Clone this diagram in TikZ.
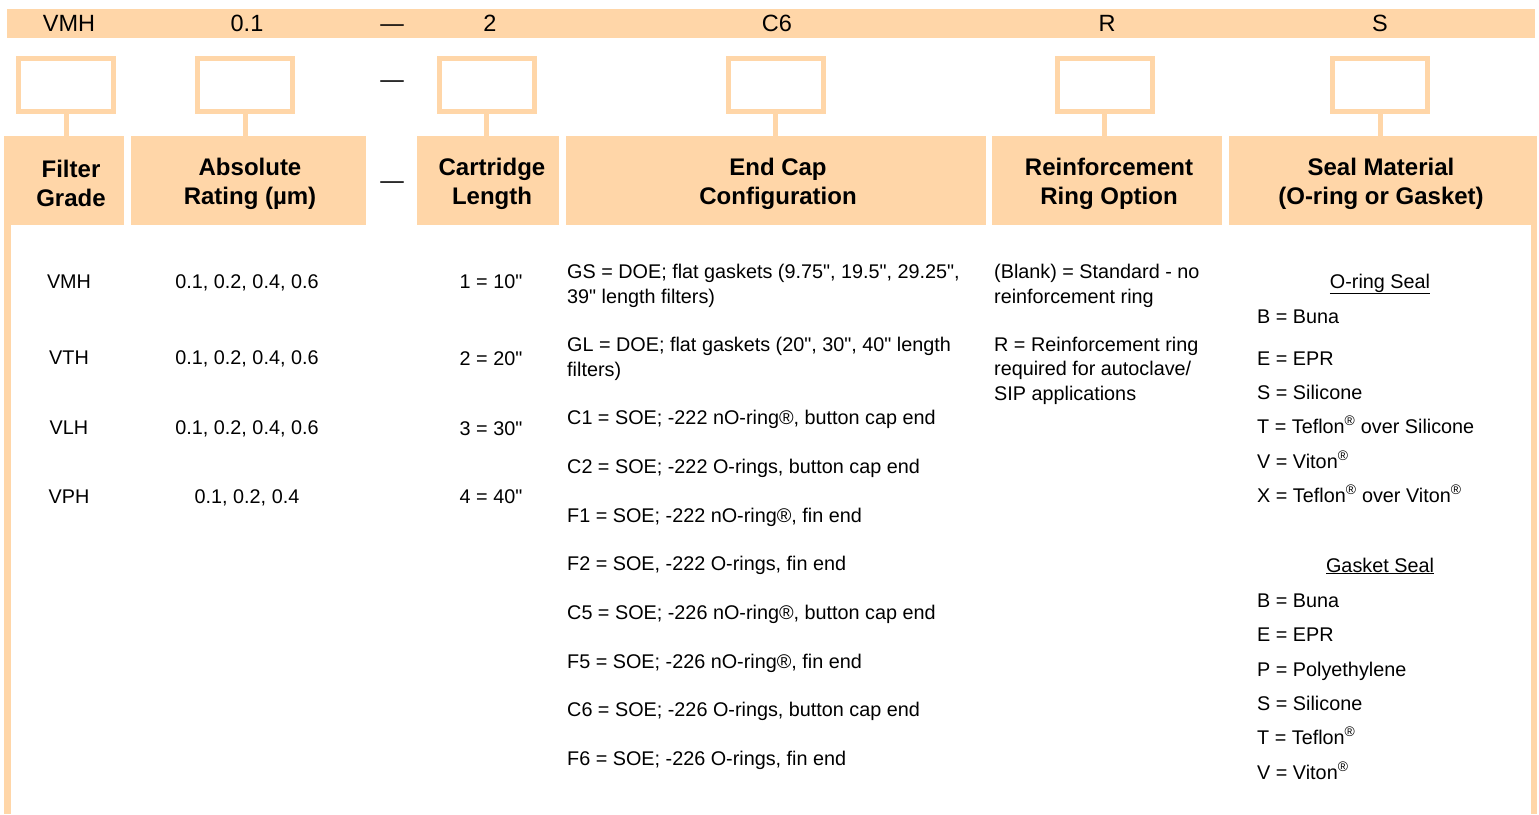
\documentclass[tikz,border=0pt]{standalone}
\usepackage{fontspec}
\setmainfont{Liberation Sans}[Ligatures=TeXOff]
\definecolor{peach}{RGB}{255,214,168}
\begin{document}
\begin{tikzpicture}[x=1pt,y=-1pt,
  bar/.style={fill=peach, draw=none, inner sep=0pt, anchor=north west},
  slot/.style={draw=peach, line width=5pt, minimum width=95pt, minimum height=53pt, inner sep=0pt},
  hdr/.style={fill=peach, draw=none, inner sep=0pt, anchor=north west, minimum height=89pt},
  stem/.style={draw=peach, line width=5pt},
  toptxt/.style={font=\fontsize{23.5}{27}\selectfont, inner sep=0pt},
  hdrtxt/.style={font=\bfseries\fontsize{24}{29}\selectfont, align=center, inner sep=0pt},
  body/.style={font=\fontsize{19.8}{25}\selectfont, anchor=base west, inner sep=0pt},
  bodyc/.style={font=\fontsize{19.8}{25}\selectfont, anchor=base, inner sep=0pt}
]
\useasboundingbox (0,0) rectangle (1539,814);

% top bar
\node[bar, minimum width=1528pt, minimum height=29pt] (top) at (7,9) {};
\node[toptxt] (c1) at (69,23.5) {VMH};
\node[toptxt] (c2) at (247,23.5) {0.1};
\node[toptxt] (c0) at (392,28) {—};
\node[toptxt] (c3) at (490,23.5) {2};
\node[toptxt] (c4) at (777,23.5) {C6};
\node[toptxt] (c5) at (1107,23.5) {R};
\node[toptxt] (c6) at (1380,23.5) {S};

% slots
\node[slot] (s1) at (66,85) {};
\node[slot] (s2) at (245,85) {};
\node[slot] (s3) at (486.5,85) {};
\node[slot] (s4) at (775.5,85) {};
\node[slot] (s5) at (1104.5,85) {};
\node[slot] (s6) at (1380,85) {};
\node[toptxt] (d1) at (392,84.5) {—};

% headers
\node[hdr, minimum width=120pt] (h1) at (4,136) {};
\node[hdr, minimum width=235pt] (h2) at (131,136) {};
\node[hdr, minimum width=142pt] (h3) at (417,136) {};
\node[hdr, minimum width=420pt] (h4) at (566,136) {};
\node[hdr, minimum width=230pt] (h5) at (992,136) {};
\node[hdr, minimum width=308pt] (h6) at (1229,136) {};
\node[toptxt] (d2) at (392,185.5) {—};

\node[hdrtxt] (t1) at (71,183.5) {Filter\\Grade};
\node[hdrtxt] (t2) at (250,183.5) {Absolute\\Rating (µm)};
\node[hdrtxt] (t3) at (492,183.5) {Cartridge\\Length};
\node[hdrtxt] (t4) at (778,183.5) {End Cap\\Configuration};
\node[hdrtxt] (t5) at (1109,183.5) {Reinforcement\\Ring Option};
\node[hdrtxt] (t6) at (1381,183.5) {Seal Material\\(O-ring or Gasket)};

% stems
\draw[stem] (s1.south) -- (s1.south |- h1.north);
\draw[stem] (s2.south) -- (s2.south |- h2.north);
\draw[stem] (s3.south) -- (s3.south |- h3.north);
\draw[stem] (s4.south) -- (s4.south |- h4.north);
\draw[stem] (s5.south) -- (s5.south |- h5.north);
\draw[stem] (s6.south) -- (s6.south |- h6.north);

% side bars
\fill[peach] (h1.south west) rectangle ++(7,589);
\fill[peach] (h6.south east) rectangle ++(-6,589);

% column 1
\node[bodyc] (g1) at (69,288) {VMH};
\node[bodyc] (g2) at (69,364) {VTH};
\node[bodyc] (g3) at (69,434) {VLH};
\node[bodyc] (g4) at (69,503) {VPH};
% column 2
\node[bodyc] (r1) at (247,288) {0.1, 0.2, 0.4, 0.6};
\node[bodyc] (r2) at (247,364) {0.1, 0.2, 0.4, 0.6};
\node[bodyc] (r3) at (247,434) {0.1, 0.2, 0.4, 0.6};
\node[bodyc] (r4) at (247,503) {0.1, 0.2, 0.4};
% column 3
\node[bodyc] (l1) at (491,288) {1 = 10"};
\node[bodyc] (l2) at (491,365) {2 = 20"};
\node[bodyc] (l3) at (491,435) {3 = 30"};
\node[bodyc] (l4) at (491,503) {4 = 40"};
% column 4
\node[body] (e1) at (567,278) {GS = DOE; flat gaskets (9.75", 19.5", 29.25",};
\node[body] (e1b) at (567,303) {39" length filters)};
\node[body] (e2) at (567,351) {GL = DOE; flat gaskets (20", 30", 40" length};
\node[body] (e2b) at (567,376) {filters)};
\node[body] (e3) at (567,424) {C1 = SOE; -222 nO-ring®, button cap end};
\node[body] (e4) at (567,473) {C2 = SOE; -222 O-rings, button cap end};
\node[body] (e5) at (567,522) {F1 = SOE; -222 nO-ring®, fin end};
\node[body] (e6) at (567,570) {F2 = SOE, -222 O-rings, fin end};
\node[body] (e7) at (567,619) {C5 = SOE; -226 nO-ring®, button cap end};
\node[body] (e8) at (567,668) {F5 = SOE; -226 nO-ring®, fin end};
\node[body] (e9) at (567,716) {C6 = SOE; -226 O-rings, button cap end};
\node[body] (e10) at (567,765) {F6 = SOE; -226 O-rings, fin end};
% column 5
\node[body] (f1) at (994,278) {(Blank) = Standard - no};
\node[body] (f1b) at (994,303) {reinforcement ring};
\node[body] (f2) at (994,351) {R = Reinforcement ring};
\node[body] (f2b) at (994,375) {required for autoclave/};
\node[body] (f2c) at (994,400) {SIP applications};
% column 6
\node[bodyc] (o0) at (1380,288) {\underline{O-ring Seal}};
\node[body] (o1) at (1257,323) {B = Buna};
\node[body] (o2) at (1257,365) {E = EPR};
\node[body] (o3) at (1257,399) {S = Silicone};
\node[body] (o4) at (1257,433) {T = Teflon\textsuperscript{®} over Silicone};
\node[body] (o5) at (1257,468) {V = Viton\textsuperscript{®}};
\node[body] (o6) at (1257,502) {X = Teflon\textsuperscript{®} over Viton\textsuperscript{®}};
\node[bodyc] (k0) at (1380,572) {\underline{Gasket Seal}};
\node[body] (k1) at (1257,607) {B = Buna};
\node[body] (k2) at (1257,641) {E = EPR};
\node[body] (k3) at (1257,676) {P = Polyethylene};
\node[body] (k4) at (1257,710) {S = Silicone};
\node[body] (k5) at (1257,744) {T = Teflon\textsuperscript{®}};
\node[body] (k6) at (1257,779) {V = Viton\textsuperscript{®}};
\end{tikzpicture}
\end{document}
